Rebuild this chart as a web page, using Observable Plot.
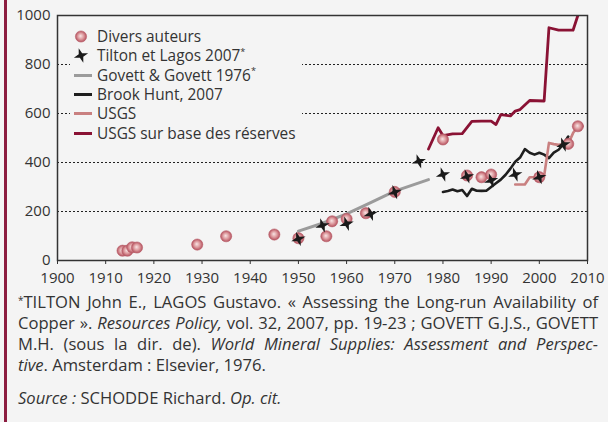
<!DOCTYPE html>
<html><head><meta charset="utf-8">
<script src="https://cdn.jsdelivr.net/npm/d3@7"></script>
<script src="https://cdn.jsdelivr.net/npm/@observablehq/plot@0.6"></script>
<style>
html,body{margin:0;padding:0;background:#f4f4f4;}
body{width:608px;height:422px;position:relative;overflow:hidden;font-family:"Open Sans",sans-serif;color:#333;}
#bar{position:absolute;left:4px;top:0;width:3px;height:422px;background:#8c1d40;}
#chart{position:absolute;left:0;top:0;}
#legend{position:absolute;left:70px;top:27px;width:232px;background:#f4f4f4;font-size:15.4px;}
.row{height:19.3px;display:flex;align-items:center;white-space:nowrap;}
.row svg{flex:none;margin-right:1px;}
sup{font-size:0.6em;vertical-align:top;position:relative;top:-0.1em;}
#caption{position:absolute;left:18px;top:291px;width:580px;font-size:16.6px;line-height:21px;}
.j{text-align:justify;text-align-last:justify;white-space:nowrap;}
#src{margin-top:12px;}
#defs{position:absolute;width:0;height:0;}
</style></head>
<body>
<svg id="defs" width="0" height="0"><defs>
<radialGradient id="ball" cx="50%" cy="50%" r="50%" fx="45%" fy="45%">
<stop offset="0%" stop-color="#f8e4e4"/>
<stop offset="55%" stop-color="#dc989c"/>
<stop offset="100%" stop-color="#b4505e"/>
</radialGradient></defs></svg>
<div id="bar"></div>
<div id="chart"></div>
<div id="legend"></div>
<div id="caption">
<div class="j"><sup>*</sup>TILTON John E., LAGOS Gustavo. « Assessing the Long-run Availability of</div>
<div class="j">Copper ». <i>Resources Policy,</i> vol. 32, 2007, pp. 19-23 ; GOVETT G.J.S., GOVETT</div>
<div class="j">M.H. (sous la dir. de). <i>World Mineral Supplies: Assessment and Perspec-</i></div>
<div><i>tive</i>. Amsterdam : Elsevier, 1976.</div>
<div id="src"><i>Source :</i> SCHODDE Richard. <i>Op. cit.</i></div>
</div>
<script>
// ---- data ----
const xTicks = [1900,1910,1920,1930,1940,1950,1960,1970,1980,1990,2000,2010];
const yTicks = [0,200,400,600,800,1000];
const gridValues = [200,400,600,800];

const diversYears  = [1913.5,1914.5,1915.5,1916.5,1929,1935,1945,1950,1955.8,1957,1960,1964,1970,1980,1985,1988,1990,2000,2006,2008];
const diversValues = [40,40,54,53,65,99,106,91,99,160,170,193,280,494,347,340,351,340,476,548];

const tiltonYears  = [1950,1955,1960,1965,1970,1975,1980,1985,1990,1995,2000,2005];
const tiltonValues = [88,143,150,190,279,405,351,343,327,351,340,473];

const govettYears  = [1950,1955,1960,1965,1970,1977];
const govettValues = [120,152,190,236,283,330];

const brookYears  = [1980,1981,1982,1983,1984,1985,1986,1987,1988,1989,1990,1991,1992,1993,1994,1995,1996,1997,1998,1999,2000,2001,2002,2003,2004,2005,2006];
const brookValues = [280,284,290,283,288,263,293,285,284,285,300,315,330,350,375,403,420,455,440,432,440,432,418,440,452,475,506];

const usgsYears  = [1995,1996,1997,1998,1999,2000,2001,2002,2003,2004,2005,2006,2007,2008,2009];
const usgsValues = [310,310,310,340,340,342,345,480,475,472,475,476,520,548,548];

const resYears  = [1977,1979,1980,1982,1984,1986,1988,1990,1991,1992,1994,1995,1996,1998,2001,2002,2004,2007,2008,2009];
const resValues = [455,542,510,517,518,568,569,569,555,595,590,610,616,653,651,950,940,940,1000,1100];

const legendLabels = ["Divers auteurs","Tilton et Lagos 2007<sup>*</sup>","Govett &amp; Govett 1976<sup>*</sup>","Brook Hunt, 2007","USGS","USGS sur base des réserves"];

// ---- helpers ----
const rows = (xs, ys) => xs.map((x, i) => ({year: x, value: ys[i]}));
const star4 = {
  draw(ctx, size) {
    const R = Math.sqrt(size / Math.PI);
    const ri = R * 0.34, rot = -Math.PI / 10;
    for (let i = 0; i < 8; i++) {
      const a = rot + i * Math.PI / 4 - Math.PI / 2;
      const rr = i % 2 === 0 ? R : ri;
      const x = rr * Math.cos(a), y = rr * Math.sin(a);
      if (i) ctx.lineTo(x, y); else ctx.moveTo(x, y);
    }
    ctx.closePath();
  }
};

const C = {divers:"url(#ball)", tilton:"#1a1a1a", govett:"#9b9b9b", brook:"#1e1e1e", usgs:"#c98080", res:"#8a1234"};

const chart = Plot.plot({
  width: 608, height: 290,
  marginTop: 15, marginBottom: 30, marginLeft: 57, marginRight: 21,
  style: {background: "transparent", fontSize: "15px", fontFamily: "Open Sans, sans-serif", color: "#333", overflow: "visible"},
  x: {domain: [1900, 2010], ticks: xTicks, tickFormat: d => String(d), tickSize: 4, tickPadding: 8, label: null},
  y: {domain: [0, 1000], ticks: yTicks, tickFormat: d => String(d), tickSize: 0, tickPadding: 7, label: null},
  marks: [
    Plot.ruleY(gridValues, {stroke: "#222", strokeWidth: 1, strokeDasharray: "2,2"}),
    Plot.line(rows(govettYears, govettValues), {x: "year", y: "value", stroke: C.govett, strokeWidth: 3}),
    Plot.line(rows(brookYears, brookValues), {x: "year", y: "value", stroke: C.brook, strokeWidth: 2.6}),
    Plot.line(rows(usgsYears, usgsValues), {x: "year", y: "value", stroke: C.usgs, strokeWidth: 2.6}),
    Plot.line(rows(resYears, resValues), {x: "year", y: "value", stroke: C.res, strokeWidth: 2.8, clip: true}),
    Plot.dot(rows(diversYears, diversValues), {x: "year", y: "value", r: 5.6, fill: C.divers, stroke: "#b8606a", strokeWidth: 0.6}),
    Plot.dot(rows(tiltonYears, tiltonValues), {x: "year", y: "value", r: 7.5, symbol: star4, fill: C.tilton, stroke: "none"}),
    Plot.frame({stroke: "#333", strokeWidth: 1.5})
  ]
});
document.getElementById("chart").appendChild(chart);

// ---- legend ----
const lg = d3.select("#legend");
legendLabels.forEach((lab, i) => {
  const row = lg.append("div").attr("class", "row");
  const s = row.append("svg").attr("width", 26).attr("height", 19);
  if (i === 0) s.append("circle").attr("cx", 11).attr("cy", 9.5).attr("r", 5.6).attr("fill", C.divers).attr("stroke", "#b8606a").attr("stroke-width", 0.6);
  else if (i === 1) s.append("path").attr("transform", "translate(11,9.5)").attr("d", d3.symbol(star4, Math.PI * 7.5 * 7.5)()).attr("fill", C.tilton);
  else {
    const col = [null, null, C.govett, C.brook, C.usgs, C.res][i];
    s.append("line").attr("x1", 4).attr("x2", 22).attr("y1", 9.5).attr("y2", 9.5).attr("stroke", col).attr("stroke-width", 3);
  }
  row.append("span").html(lab);
});
</script>
</body></html>
